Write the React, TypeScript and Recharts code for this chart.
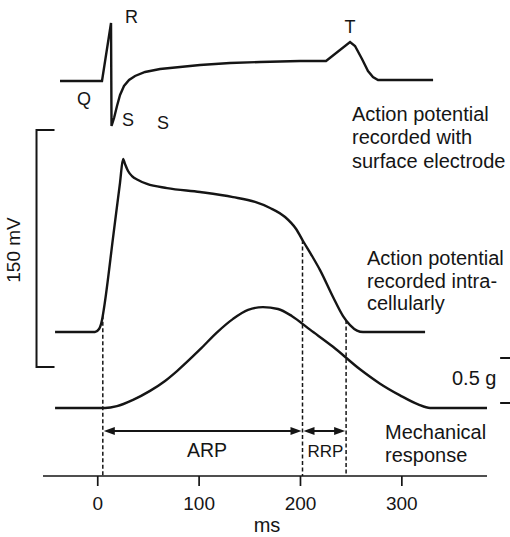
import React from 'react';
import { ComposedChart, Line, XAxis, YAxis, ReferenceLine } from 'recharts';

// ---------- data ----------
// Surface ECG (time in ms, potential in mV)
const ECG_MS = [-37.2, 4.2, 13.1, 13.6, 16.1, 19.0, 22.0, 25.9, 30.9, 36.8, 46.7, 61.5, 81.2, 100.9, 130.5, 160.1, 199.6, 225.2, 248.9, 253.8, 260.7, 266.6, 271.5, 276.5, 283.4, 330.8];
const ECG_MV = [0, 0, 1.16, -0.9, -0.74, -0.5, -0.28, -0.1, 0.02, 0.1, 0.18, 0.24, 0.28, 0.32, 0.36, 0.38, 0.4, 0.4, 0.78, 0.7, 0.44, 0.2, 0.08, 0.02, 0.02, 0.02];

// Intracellular action potential (ms, mV)
const AP_MS = [-42.1, -2.7, 1.3, 4.2, 6.2, 15.6, 22.0, 25.0, 26.9, 29.9, 33.8, 39.8, 48.6, 68.4, 100.9, 133.5, 155.2, 170.0, 184.8, 195.7, 202.5, 211.4, 219.3, 232.1, 242.0, 248.9, 255.8, 261.7, 322.9];
const AP_MV = [-90, -90, -88.1, -82.4, -74.8, -27.7, 4.6, 19.5, 16.3, 11.9, 8.7, 6.2, 3.7, 1.1, -1.4, -4.6, -7.7, -11.5, -17.2, -24.8, -32.4, -41.9, -50.8, -67.8, -79.9, -85.6, -89.1, -90, -90];

// Mechanical response (ms, tension in g)
const TENSION_MS = [-42.1, 7.2, 19.0, 34.8, 51.6, 66.4, 78.2, 100.9, 117.7, 133.5, 148.3, 163.0, 177.8, 191.7, 209.4, 232.1, 258.7, 278.5, 298.2, 316.0, 327.8, 384];
const TENSION_G = [0, 0, 0.02, 0.09, 0.19, 0.3, 0.41, 0.65, 0.84, 0.99, 1.09, 1.12, 1.1, 1.02, 0.87, 0.68, 0.43, 0.27, 0.14, 0.04, 0, 0];

const X_TICKS = [0, 100, 200, 300];
const REFRACTORY_MARKS_MS = [5, 202, 245];
const PERIOD_NAMES = ['ARP', 'RRP'];
const SCALE_MV = 150;
const SCALE_G = 0.5;

// ---------- layout ----------
const X_DOMAIN: [number, number] = [-54, 384];
const ECG_DOMAIN: [number, number] = [-7.9, 1.62];
const AP_DOMAIN: [number, number] = [-181.1, 120.1];
const G_DOMAIN: [number, number] = [-0.756, 4.533];
const MV_BAR_TOP = 37.85;
const MV_BAR_X = -60.4;
const G_BAR_BOTTOM = 0.056;
const G_BAR_X = 407.8;
const ARROW_Y_G = -0.256;

const INK = '#151515';
const FONT = '"Liberation Sans", Arial, Helvetica, sans-serif';

const zip = (xs: number[], ys: number[]) => xs.map((ms, i) => ({ ms, v: ys[i] }));
const ecgData = zip(ECG_MS, ECG_MV);
const apData = zip(AP_MS, AP_MV);
const tensionData = zip(TENSION_MS, TENSION_G);

const apAt = (ms: number) => {
  for (let i = 1; i < AP_MS.length; i++) {
    if (ms <= AP_MS[i]) {
      const t = (ms - AP_MS[i - 1]) / (AP_MS[i] - AP_MS[i - 1]);
      return AP_MV[i - 1] + t * (AP_MV[i] - AP_MV[i - 1]);
    }
  }
  return AP_MV[AP_MV.length - 1];
};

const bracketShape = (dir: number, len: number) => (p: any) => {
  const { x1, y1, x2, y2 } = p;
  return (
    <path
      d={`M${x1 + dir * len},${y1}H${x1}V${y2}H${x2 + dir * len}`}
      fill="none"
      stroke={INK}
      strokeWidth={2}
    />
  );
};

const arrowShape = (p: any) => {
  const { x1, y1, x2 } = p;
  const a = 11;
  const h = 4;
  const l = Math.min(x1, x2) + 1;
  const r = Math.max(x1, x2) - 1;
  return (
    <g>
      <line x1={l + 4} y1={y1} x2={r - 4} y2={y1} stroke={INK} strokeWidth={1.8} />
      <polygon points={`${l},${y1} ${l + a},${y1 - h} ${l + a},${y1 + h}`} fill={INK} />
      <polygon points={`${r},${y1} ${r - a},${y1 - h} ${r - a},${y1 + h}`} fill={INK} />
    </g>
  );
};

const T = (props: any) => (
  <text fill={INK} fontFamily={FONT} {...props} />
);

export default function App() {
  return (
    <div style={{ position: 'absolute', left: 0, top: 0, width: 510, height: 537, background: '#fff' }}>
      <ComposedChart width={510} height={537} margin={{ top: 0, right: 23, bottom: 0, left: 43 }}>
        <XAxis
          type="number"
          dataKey="ms"
          domain={X_DOMAIN}
          allowDataOverflow
          ticks={X_TICKS}
          tickSize={10}
          tickMargin={11}
          height={61}
          axisLine={{ stroke: INK, strokeWidth: 1.7 }}
          tickLine={{ stroke: INK, strokeWidth: 1.7 }}
          tick={{ fill: INK, fontSize: 19, fontFamily: FONT }}
        />
        <YAxis yAxisId="ecg" hide type="number" domain={ECG_DOMAIN} allowDataOverflow />
        <YAxis yAxisId="ap" hide type="number" domain={AP_DOMAIN} allowDataOverflow />
        <YAxis yAxisId="g" hide type="number" domain={G_DOMAIN} allowDataOverflow />

        {REFRACTORY_MARKS_MS.map((m) => (
          <ReferenceLine
            key={'d' + m}
            yAxisId="ap"
            ifOverflow="visible"
            segment={[{ x: m, y: apAt(m) }, { x: m, y: AP_DOMAIN[0] }]}
            stroke={INK}
            strokeWidth={1.5}
            strokeDasharray="4 2.5"
          />
        ))}

        {PERIOD_NAMES.map((n, i) => (
          <ReferenceLine
            key={n}
            yAxisId="g"
            ifOverflow="visible"
            segment={[{ x: REFRACTORY_MARKS_MS[i], y: ARROW_Y_G }, { x: REFRACTORY_MARKS_MS[i + 1], y: ARROW_Y_G }]}
            shape={arrowShape}
          />
        ))}

        <ReferenceLine
          yAxisId="ap"
          ifOverflow="visible"
          segment={[{ x: MV_BAR_X, y: MV_BAR_TOP }, { x: MV_BAR_X, y: MV_BAR_TOP - SCALE_MV }]}
          shape={bracketShape(1, 18)}
        />
        <ReferenceLine
          yAxisId="g"
          ifOverflow="visible"
          segment={[{ x: G_BAR_X, y: G_BAR_BOTTOM + SCALE_G }, { x: G_BAR_X, y: G_BAR_BOTTOM }]}
          shape={bracketShape(-1, 11)}
        />

        <Line yAxisId="ecg" data={ecgData} dataKey="v" type="linear" stroke={INK} strokeWidth={2.4} dot={false} activeDot={false} isAnimationActive={false} />
        <Line yAxisId="ap" data={apData} dataKey="v" type="monotone" stroke={INK} strokeWidth={2.4} dot={false} activeDot={false} isAnimationActive={false} />
        <Line yAxisId="g" data={tensionData} dataKey="v" type="monotone" stroke={INK} strokeWidth={2.4} dot={false} activeDot={false} isAnimationActive={false} />
      </ComposedChart>

      <svg width={510} height={537} style={{ position: 'absolute', left: 0, top: 0, pointerEvents: 'none' }}>
        <T x={125} y={23} fontSize={18}>R</T>
        <T x={350} y={33} fontSize={18} textAnchor="middle">T</T>
        <T x={77} y={105} fontSize={18}>Q</T>
        <T x={122} y={126} fontSize={18}>S</T>
        <T x={157} y={129} fontSize={18}>S</T>

        <T x={352} y={121} fontSize={20}>Action potential</T>
        <T x={352} y={144} fontSize={20}>recorded with</T>
        <T x={352} y={168} fontSize={20}>surface electrode</T>

        <T x={367} y={265} fontSize={20}>Action potential</T>
        <T x={367} y={288} fontSize={20}>recorded intra-</T>
        <T x={367} y={310} fontSize={20}>cellularly</T>

        <T x={385} y={439} fontSize={20}>Mechanical</T>
        <T x={385} y={462} fontSize={20}>response</T>

        <T x={452} y={385} fontSize={20}>{SCALE_G} g</T>
        <T x={20} y={250} fontSize={19} textAnchor="middle" transform="rotate(-90 20 250)">{SCALE_MV} mV</T>

        <T x={207} y={457} fontSize={19.5} textAnchor="middle">ARP</T>
        <T x={325.5} y={457} fontSize={17} textAnchor="middle">RRP</T>

        <T x={267} y={532} fontSize={20} textAnchor="middle">ms</T>
      </svg>
    </div>
  );
}
